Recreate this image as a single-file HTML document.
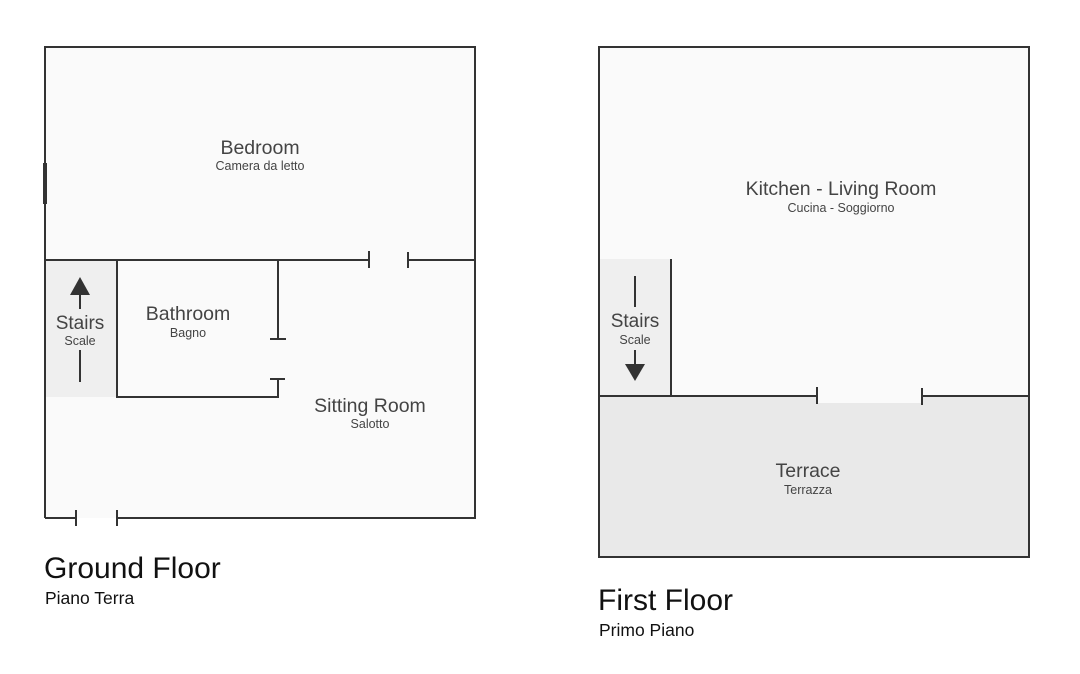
<!DOCTYPE html>
<html><head><meta charset="utf-8"><style>
html,body{margin:0;padding:0;background:#fff;}
svg{display:block;font-family:"Liberation Sans",sans-serif;}
</style></head><body>
<svg width="1080" height="674" viewBox="0 0 1080 674" xmlns="http://www.w3.org/2000/svg">
<g stroke="#333" stroke-width="2" fill="none">
<rect x="45" y="47" width="430" height="471" fill="#fafafa" stroke="none"/>
<rect x="46" y="261" width="70" height="136" fill="#efefef" stroke="none"/>
<path d="M45 518 V47 H475 V518 H117 M76 518 H45"/>
<line x1="45" y1="163" x2="45" y2="204" stroke-width="4"/>
<line x1="76" y1="510" x2="76" y2="526"/>
<line x1="117" y1="510" x2="117" y2="526"/>
<path d="M45 260 H369 M408 260 H475"/>
<line x1="369" y1="251" x2="369" y2="268"/>
<line x1="408" y1="252" x2="408" y2="268"/>
<path d="M117 260 V397 H278 V379"/>
<line x1="270" y1="379" x2="285" y2="379"/>
<path d="M278 260 V339"/>
<line x1="270" y1="339" x2="286" y2="339"/>
<line x1="80" y1="294" x2="80" y2="309"/>
<line x1="80" y1="350" x2="80" y2="382"/>
<rect x="599" y="47" width="430" height="510" fill="#fafafa" stroke="none"/>
<rect x="600" y="259" width="71" height="137" fill="#efefef" stroke="none"/>
<rect x="600" y="396" width="429" height="161" fill="#e9e9e9" stroke="none"/>
<rect x="818" y="396" width="104" height="7" fill="#fafafa" stroke="none"/>
<rect x="599" y="47" width="430" height="510"/>
<path d="M599 396 H817 M922 396 H1029"/>
<line x1="817" y1="387" x2="817" y2="404"/>
<line x1="922" y1="388" x2="922" y2="405"/>
<line x1="671" y1="259" x2="671" y2="396"/>
<line x1="635" y1="276" x2="635" y2="307"/>
<line x1="635" y1="350" x2="635" y2="366"/>
</g>
<polygon points="80,277 70,295 90,295" fill="#333"/>
<polygon points="625,364 645,364 635,381" fill="#333"/>
<g fill="#444" text-anchor="middle">
<text x="260" y="154" font-size="19.5">Bedroom</text>
<text x="260" y="170" font-size="12.5">Camera da letto</text>
<text x="188" y="320" font-size="19.5">Bathroom</text>
<text x="188" y="337" font-size="12.5">Bagno</text>
<text x="80" y="329" font-size="19">Stairs</text>
<text x="80" y="345" font-size="12.5">Scale</text>
<text x="370" y="412" font-size="19.5">Sitting Room</text>
<text x="370" y="428" font-size="12.5">Salotto</text>
<text x="841" y="195" font-size="19.5">Kitchen - Living Room</text>
<text x="841" y="212" font-size="12.5">Cucina - Soggiorno</text>
<text x="635" y="327" font-size="19">Stairs</text>
<text x="635" y="344" font-size="12.5">Scale</text>
<text x="808" y="477" font-size="19.5">Terrace</text>
<text x="808" y="494" font-size="12.5">Terrazza</text>
</g>
<g fill="#111">
<text x="44" y="578" font-size="30">Ground Floor</text>
<text x="45" y="604" font-size="17.5">Piano Terra</text>
<text x="598" y="610" font-size="30">First Floor</text>
<text x="599" y="636" font-size="17.5">Primo Piano</text>
</g>
</svg>
</body></html>
